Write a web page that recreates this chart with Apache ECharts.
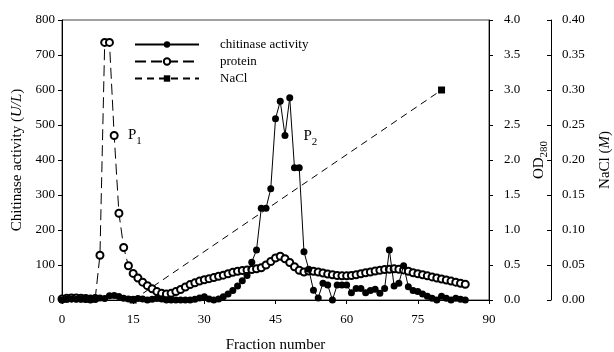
<!DOCTYPE html>
<html>
<head>
<meta charset="utf-8">
<script src="https://cdn.jsdelivr.net/npm/echarts@6/dist/echarts.min.js"></script>
<style>
  html, body { margin: 0; padding: 0; background: #fff; }
  #chart { width: 614px; height: 352px; }
</style>
</head>
<body>
<div id="chart"></div>
<script>
// fraction numbers
const fractions = [
  0, 1, 2, 3, 4, 5, 6, 7, 8, 9,
  10, 11, 12, 13, 14, 15, 16, 17, 18, 19,
  20, 21, 22, 23, 24, 25, 26, 27, 28, 29,
  30, 31, 32, 33, 34, 35, 36, 37, 38, 39,
  40, 41, 42, 43, 44, 45, 46, 47, 48, 49,
  50, 51, 52, 53, 54, 55, 56, 57, 58, 59,
  60, 61, 62, 63, 64, 65, 66, 67, 68, 69,
  70, 71, 72, 73, 74, 75, 76, 77, 78, 79,
  80, 81, 82, 83, 84, 85
];
// chitinase activity (U/L)
const chitinase = [
  0, 2, 3, 2, 3, 2, 3, 4, 6, 4,
  12, 13, 10, 5, 3, 2, 4, 3, 0, 2,
  4, 3, 0, 0, 0, 0, 0, 0, 2, 6,
  9, 3, 0, 3, 9, 17, 27, 40, 55, 70,
  108, 143, 262, 262, 318, 518, 568, 470, 578, 378,
  378, 138, 88, 28, 6, 48, 43, 0, 43, 43,
  43, 21, 33, 33, 21, 27, 31, 19, 33, 143,
  40, 48, 98, 38, 27, 24, 17, 11, 5, 0,
  11, 5, 0, 5, 2, 0
];
// protein OD280
const protein = [
  0.015, 0.025, 0.03, 0.03, 0.025, 0.02, 0.015, 0.02, 0.64, 3.68,
  3.68, 2.35, 1.24, 0.75, 0.49, 0.38, 0.315, 0.255, 0.205, 0.16,
  0.12, 0.095, 0.085, 0.095, 0.12, 0.15, 0.185, 0.22, 0.245, 0.27,
  0.29, 0.305, 0.32, 0.34, 0.355, 0.375, 0.395, 0.41, 0.42, 0.43,
  0.435, 0.445, 0.46, 0.5, 0.55, 0.6, 0.625, 0.59, 0.535, 0.475,
  0.425, 0.4, 0.415, 0.41, 0.4, 0.385, 0.37, 0.36, 0.35, 0.345,
  0.345, 0.35, 0.36, 0.375, 0.39, 0.4, 0.415, 0.425, 0.435, 0.44,
  0.445, 0.44, 0.43, 0.41, 0.39, 0.375, 0.36, 0.345, 0.33, 0.315,
  0.3, 0.285, 0.27, 0.255, 0.24, 0.225
];
// NaCl gradient (M)
const naclFractions = [15, 80];
const nacl = [0, 0.30];

const xTicks = [0, 15, 30, 45, 60, 75, 90];

const serif = "Liberation Serif";
const chart = echarts.init(document.getElementById("chart"));

const subRich = {
  n: { fontFamily: serif, fontSize: 15, color: "#000", lineHeight: 22, verticalAlign: "middle" },
  s: { fontFamily: serif, fontSize: 11, color: "#000", lineHeight: 22, verticalAlign: "bottom" },
  i: { fontFamily: serif, fontSize: 15, color: "#000", fontStyle: "italic", lineHeight: 22, verticalAlign: "middle" },
};

const axisCommon = {
  axisLine: { show: true, lineStyle: { color: "#000", width: 1 } },
  axisTick: { show: true, length: 4, lineStyle: { color: "#000" } },
  splitLine: { show: false },
};

const option = {
  animation: false,
  backgroundColor: "#fff",
  grid: {
    left: 62, right: 125, top: 20, bottom: 52,
    outerBoundsMode: "none", containLabel: false,
    show: true, borderColor: "#444", borderWidth: 1,
  },
  legend: {
    orient: "vertical",
    left: 134,
    top: 38,
    padding: 0,
    itemWidth: 64,
    itemHeight: 8,
    itemGap: 4,
    textStyle: { fontFamily: serif, fontSize: 13, color: "#000", padding: [0, 0, 0, 16] },
    data: ["chitinase activity", "protein", "NaCl"],
  },
  xAxis: {
    type: "value",
    min: xTicks[0],
    max: xTicks[xTicks.length - 1],
    interval: 15,
    ...axisCommon,
    axisLabel: { fontFamily: serif, fontSize: 13, color: "#000", margin: 13 },
    name: "Fraction number",
    nameLocation: "middle",
    nameGap: 38,
    nameTextStyle: { fontFamily: serif, fontSize: 15, color: "#000" },
  },
  yAxis: [
    {
      type: "value",
      position: "left",
      min: 0,
      max: 800,
      interval: 100,
      ...axisCommon,
      axisLabel: { fontFamily: serif, fontSize: 13, color: "#000", margin: 7 },
      name: "{n|Chitinase activity (}{i|U/L}{n|)}",
      nameLocation: "middle",
      nameRotate: 90,
      nameGap: 34,
      nameTextStyle: { rich: subRich },
    },
    {
      type: "value",
      position: "right",
      min: 0,
      max: 4,
      interval: 0.5,
      ...axisCommon,
      axisLabel: { fontFamily: serif, fontSize: 13, color: "#000", margin: 15, formatter: (v) => v.toFixed(1) },
      name: "{n|OD}{s|280}",
      nameLocation: "middle",
      nameRotate: 90,
      nameGap: 37,
      nameTextStyle: { rich: subRich },
    },
    {
      type: "value",
      position: "right",
      offset: 62,
      min: 0,
      max: 0.4,
      interval: 0.05,
      ...axisCommon,
      axisTick: { show: true, inside: true, length: 4, lineStyle: { color: "#000" } },
      axisLabel: { fontFamily: serif, fontSize: 13, color: "#000", margin: 11, formatter: (v) => v.toFixed(2) },
      name: "{n|NaCl (}{i|M}{n|)}",
      nameLocation: "middle",
      nameRotate: 90,
      nameGap: 43,
      nameTextStyle: { rich: subRich },
    },
  ],
  series: [
    {
      name: "protein",
      type: "line",
      yAxisIndex: 1,
      data: fractions.map((f, i) => [f, protein[i]]),
      symbol: "emptyCircle",
      symbolSize: 7,
      showAllSymbol: true,
      lineStyle: { color: "#000", width: 1, type: [11, 5] },
      itemStyle: { color: "#000", borderColor: "#000", borderWidth: 1.6 },
      z: 2,
    },
    {
      name: "chitinase activity",
      type: "line",
      yAxisIndex: 0,
      data: fractions.map((f, i) => [f, chitinase[i]]),
      symbol: "circle",
      symbolSize: 7,
      showAllSymbol: true,
      lineStyle: { color: "#000", width: 1 },
      itemStyle: { color: "#000" },
      z: 3,
    },
    {
      name: "NaCl",
      type: "line",
      yAxisIndex: 2,
      data: naclFractions.map((f, i) => [f, nacl[i]]),
      symbol: "rect",
      symbolSize: 7,
      lineStyle: { color: "#000", width: 1, type: [7, 5] },
      itemStyle: { color: "#000" },
      z: 1,
    },
  ],
};

chart.setOption(option);

// peak labels placed in data coordinates
const peaks = [
  { text: "{n|P}{s|1}", x: 13.9, y: 470 },
  { text: "{n|P}{s|2}", x: 50.9, y: 468 },
];
chart.setOption({
  graphic: peaks.map((p) => {
    const pt = chart.convertToPixel({ xAxisIndex: 0, yAxisIndex: 0 }, [p.x, p.y]);
    return {
      type: "text",
      x: pt[0],
      y: pt[1],
      style: { text: p.text, rich: subRich, verticalAlign: "middle", align: "left" },
    };
  }),
});
</script>
</body>
</html>
